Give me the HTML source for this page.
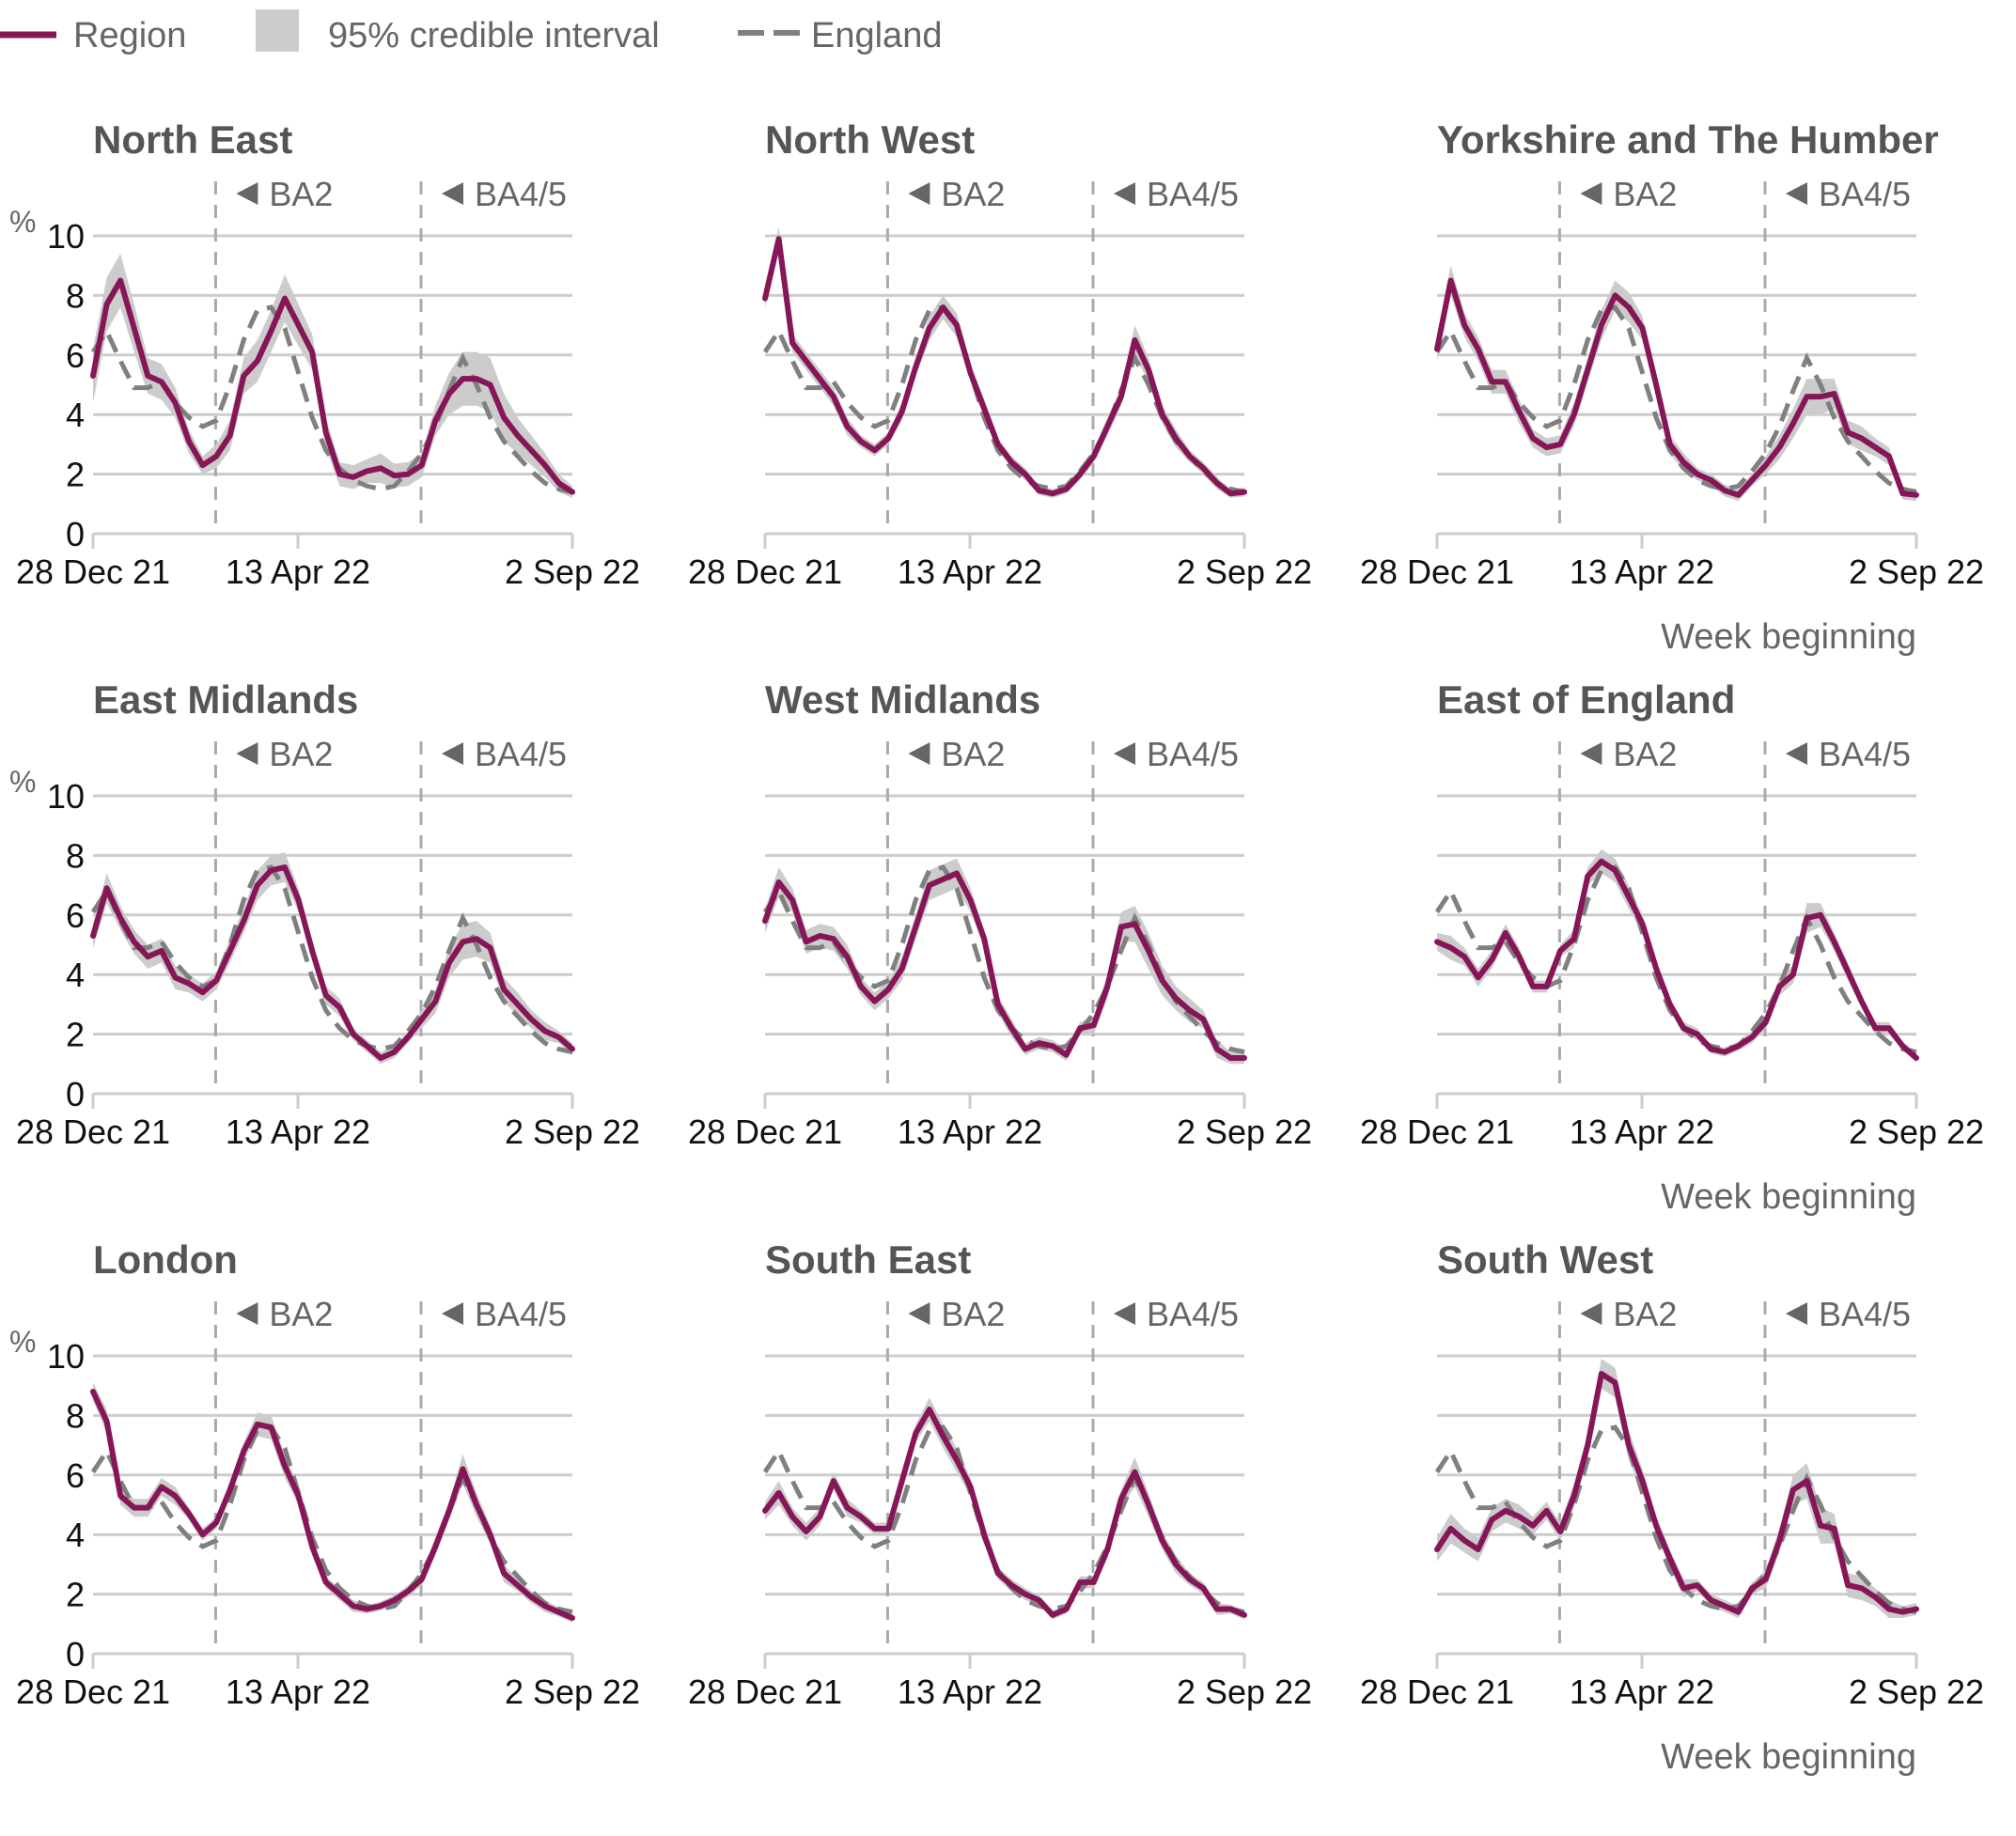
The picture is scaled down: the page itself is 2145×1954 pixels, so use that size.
<!DOCTYPE html>
<html><head><meta charset="utf-8"><style>
html,body{margin:0;padding:0;background:#fff;}
svg{display:block;font-family:"Liberation Sans",sans-serif;}
</style></head><body>
<svg id="chart" width="2145" height="1954" viewBox="0 0 2145 1954" xmlns="http://www.w3.org/2000/svg">
<g>
<line x1="0" y1="37" x2="60" y2="37" stroke="#861657" stroke-width="7"/>
<text x="78" y="50" font-size="38" fill="#666">Region</text>
<rect x="272" y="10" width="46" height="45" fill="#ccc"/>
<text x="349" y="50" font-size="38" fill="#666">95% credible interval</text>
<line x1="785" y1="35" x2="851" y2="35" stroke="#808080" stroke-width="6" stroke-dasharray="28,10"/>
<text x="863" y="50" font-size="38" fill="#666">England</text>
</g>
<g id="panels"></g>
</svg>
<script>
const regionNames = ["North East","North West","Yorkshire and The Humber","East Midlands","West Midlands","East of England","London","South East","South West"];
const yTicks = [0,2,4,6,8,10];
const xTickLabels = ["28 Dec 21","13 Apr 22","2 Sep 22"];
const xTickWeeks = [0,14.96,35];
const variantLabels = ["BA2","BA4/5"];
const variantWeeks = [8.95,23.95];
const england = [6.1,6.8,5.8,4.9,4.9,5.1,4.4,3.9,3.6,3.8,5.0,6.5,7.5,7.6,6.9,5.4,3.9,2.8,2.2,1.8,1.6,1.5,1.6,2.1,2.7,3.6,4.8,5.9,5.0,3.9,3.1,2.6,2.1,1.7,1.5,1.4];
const northEast = [5.3,7.7,8.5,6.9,5.3,5.1,4.4,3.1,2.3,2.6,3.3,5.3,5.8,6.8,7.9,7.0,6.1,3.4,2.0,1.9,2.1,2.2,1.95,2.0,2.3,3.8,4.7,5.2,5.2,5.0,3.9,3.3,2.8,2.3,1.7,1.4];
const northWest = [7.9,9.9,6.4,5.8,5.2,4.6,3.6,3.1,2.8,3.2,4.1,5.6,6.9,7.6,7.0,5.4,4.2,3.0,2.4,2.0,1.45,1.35,1.5,2.0,2.6,3.6,4.6,6.5,5.5,4.0,3.2,2.6,2.2,1.7,1.35,1.4];
const yorkshire = [6.2,8.5,7.0,6.2,5.1,5.1,4.1,3.2,2.9,3.0,4.0,5.5,7.0,8.0,7.6,6.9,5.0,3.0,2.4,2.0,1.8,1.45,1.3,1.8,2.3,2.9,3.7,4.6,4.6,4.7,3.4,3.2,2.9,2.6,1.35,1.3];
const eastMidlands = [5.3,6.9,5.9,5.1,4.6,4.8,3.9,3.7,3.4,3.8,4.8,5.8,7.0,7.5,7.6,6.5,4.8,3.3,2.9,2.0,1.6,1.2,1.4,1.9,2.5,3.1,4.4,5.1,5.2,4.9,3.5,3.0,2.5,2.1,1.9,1.5];
const westMidlands = [5.8,7.1,6.5,5.1,5.3,5.2,4.6,3.6,3.1,3.5,4.2,5.6,7.0,7.2,7.4,6.5,5.2,3.0,2.2,1.5,1.7,1.6,1.3,2.2,2.3,3.6,5.6,5.7,4.8,3.8,3.2,2.8,2.5,1.5,1.2,1.2];
const eastOfEngland = [5.1,4.9,4.6,3.9,4.5,5.4,4.6,3.6,3.6,4.8,5.2,7.3,7.8,7.5,6.6,5.7,4.2,3.0,2.2,2.0,1.5,1.4,1.6,1.9,2.4,3.6,4.0,5.9,6.0,5.1,4.1,3.1,2.2,2.2,1.6,1.2];
const london = [8.8,7.8,5.3,4.9,4.9,5.6,5.3,4.7,4.0,4.4,5.5,6.8,7.7,7.6,6.3,5.3,3.6,2.4,2.0,1.6,1.5,1.6,1.8,2.1,2.5,3.6,4.8,6.2,5.0,4.0,2.7,2.3,1.9,1.6,1.4,1.2];
const southEast = [4.8,5.4,4.6,4.1,4.6,5.8,4.9,4.6,4.2,4.2,5.8,7.4,8.2,7.3,6.5,5.6,4.0,2.7,2.3,2.0,1.8,1.3,1.5,2.4,2.4,3.5,5.2,6.1,5.0,3.8,3.0,2.5,2.2,1.5,1.5,1.3];
const southWest = [3.5,4.2,3.8,3.5,4.5,4.8,4.6,4.3,4.8,4.1,5.3,7.0,9.4,9.1,7.0,5.8,4.3,3.2,2.2,2.3,1.8,1.6,1.4,2.2,2.5,3.8,5.5,5.8,4.3,4.2,2.3,2.2,1.9,1.5,1.4,1.5];
const ciHalfNE = [0.9,0.9,0.9,0.8,0.6,0.6,0.5,0.4,0.3,0.4,0.5,0.6,0.7,0.7,0.8,0.7,0.6,0.5,0.4,0.4,0.4,0.5,0.4,0.4,0.4,0.5,0.7,0.9,0.9,0.9,0.8,0.6,0.5,0.4,0.3,0.2];
const ciHalfSmall = [0.3,0.4,0.3,0.3,0.3,0.3,0.3,0.2,0.2,0.2,0.3,0.3,0.4,0.4,0.4,0.3,0.3,0.2,0.2,0.2,0.15,0.15,0.15,0.2,0.2,0.3,0.3,0.5,0.4,0.3,0.3,0.2,0.2,0.2,0.15,0.15];
const ciHalfMid = [0.4,0.5,0.4,0.4,0.4,0.4,0.4,0.3,0.3,0.3,0.4,0.4,0.5,0.5,0.5,0.4,0.3,0.3,0.3,0.2,0.2,0.2,0.2,0.2,0.3,0.4,0.5,0.6,0.6,0.5,0.4,0.4,0.3,0.3,0.2,0.2];
const regionSeries = [northEast,northWest,yorkshire,eastMidlands,westMidlands,eastOfEngland,london,southEast,southWest];
const ciSeries = [ciHalfNE,ciHalfSmall,ciHalfMid,ciHalfMid,ciHalfMid,ciHalfSmall,ciHalfSmall,ciHalfSmall,ciHalfMid];

const NS="http://www.w3.org/2000/svg";
const root=document.getElementById('panels');
function mk(tag,attrs,parent){const e=document.createElementNS(NS,tag);for(const k in attrs)e.setAttribute(k,attrs[k]);parent.appendChild(e);return e;}
const PW=510,PH=317,NPTS=35;
regionNames.forEach((name,p)=>{
  const c=p%3,r=Math.floor(p/3);
  const x0=99+c*715,yTop=251+r*596,yBot=yTop+PH;
  const xs=i=>x0+i*PW/NPTS;
  const ys=v=>yBot-v/10*PH;
  const g=mk('g',{},root);
  
  
  const t=mk('text',{x:x0,y:yTop-88,'font-size':42,'font-weight':'bold',fill:'#555'},g);
  
  
  t.textContent=name;
  yTicks.forEach(v=>{
    const l=mk('line',{x1:x0,x2:x0+PW,y1:ys(v),y2:ys(v),stroke:'#ccc','stroke-width':3},g);
    
    
    if(c===0){
      const tl=mk('text',{x:x0-9,y:ys(v)+13,'font-size':36,fill:'#111','text-anchor':'end'},g);
      
      
      tl.textContent=v;
    }
  });
  if(c===0){
    const pc=mk('text',{x:10,y:yTop-4,'font-size':32,fill:'#666'},g);
    
    
    pc.textContent='%';
  }
  xTickWeeks.forEach((w,k)=>{
    const tk=mk('line',{x1:xs(w),x2:xs(w),y1:yBot,y2:yBot+16,stroke:'#ccc','stroke-width':3},g);
    
    
    const tl=mk('text',{x:xs(w),y:yBot+53,'font-size':36,fill:'#111','text-anchor':'middle'},g);
    
    
    tl.textContent=xTickLabels[k];
  });
  variantWeeks.forEach((w,k)=>{
    const vx=xs(w);
    const vl=mk('line',{x1:vx,x2:vx,y1:yTop-58,y2:yBot,stroke:'#aaa','stroke-width':3,'stroke-dasharray':'14,11'},g);
    
    
    const tri=mk('polygon',{points:`${vx+22},${yTop-45} ${vx+45},${yTop-57} ${vx+45},${yTop-33}`,fill:'#666'},g);
    
    
    const vt=mk('text',{x:vx+57,y:yTop-32,'font-size':36,fill:'#666'},g);
    
    
    vt.textContent=variantLabels[k];
  });
  const reg=regionSeries[p],ci=ciSeries[p];
  let up=reg.map((v,i)=>xs(i)+','+ys(v+ci[i]));
  let lo=reg.map((v,i)=>xs(i)+','+ys(Math.max(0,v-ci[i]))).reverse();
  const band=mk('polygon',{points:up.concat(lo).join(' '),fill:'#ccc'},g);
  
  
  const eng=mk('polyline',{points:england.map((v,i)=>xs(i)+','+ys(v)).join(' '),fill:'none',stroke:'#808080','stroke-width':5,'stroke-dasharray':'20,11'},g);
  
  
  const rl=mk('polyline',{points:reg.map((v,i)=>xs(i)+','+ys(v)).join(' '),fill:'none',stroke:'#861657','stroke-width':6,'stroke-linejoin':'round','stroke-linecap':'round'},g);
  
  
  if(c===2){
    const wb=mk('text',{x:x0+PW,y:yBot+122,'font-size':38,fill:'#666','text-anchor':'end'},g);
    
    
    wb.textContent='Week beginning';
  }
});
</script>
</body></html>
